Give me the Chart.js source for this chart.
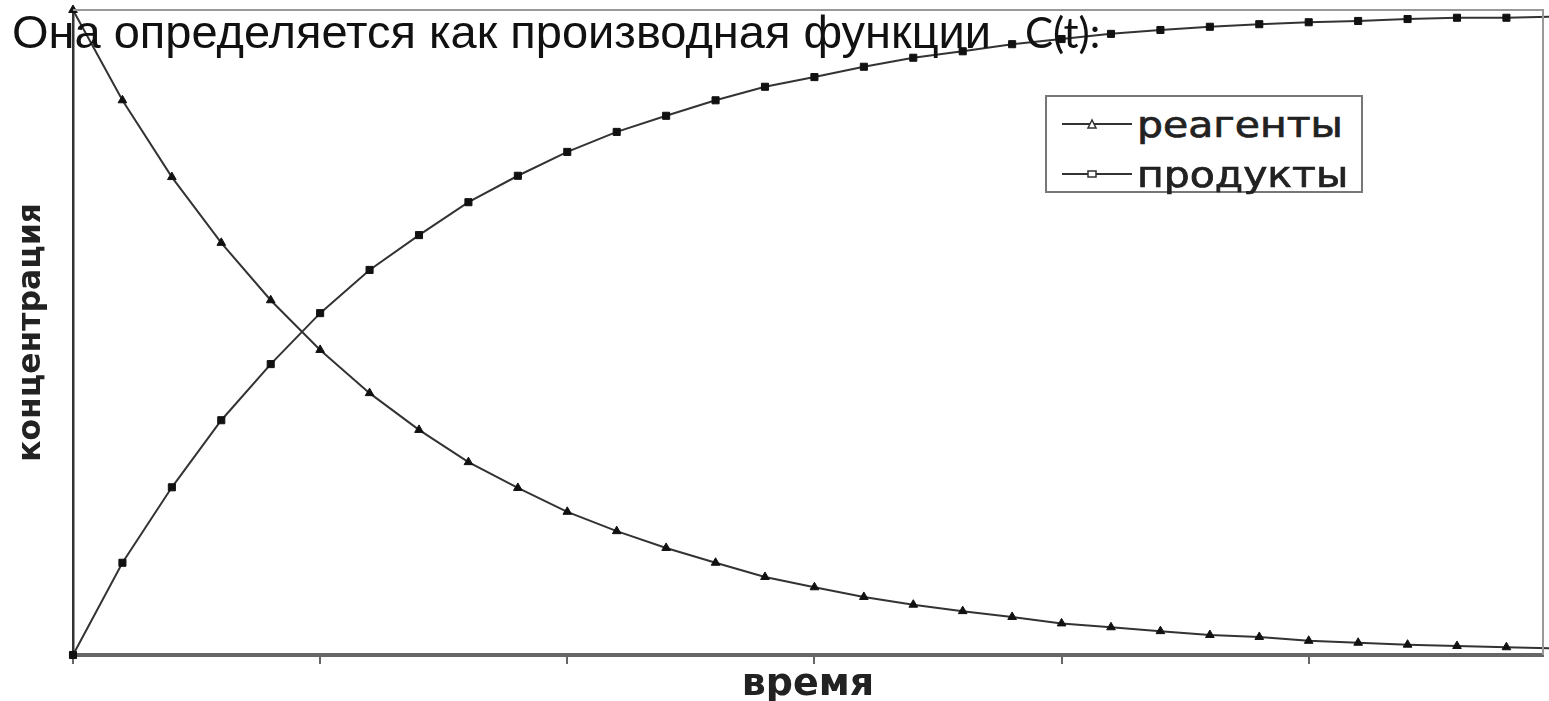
<!DOCTYPE html>
<html>
<head>
<meta charset="utf-8">
<script src="https://cdn.jsdelivr.net/npm/chart.js@4.4.1/dist/chart.umd.min.js"></script>
<style>
    body { margin: 0; background: #fff; overflow: hidden; }
    #wrap { position: relative; width: 1549px; height: 701px; }
    #heading {
        position: absolute; left: 12px; top: 7px;
        font: 47px "Liberation Sans", Arial, sans-serif; line-height: 50px;
        color: #111; white-space: nowrap;
    }
    #heading .ct { font-family: Lato, "Open Sans", sans-serif; font-size: 42px; margin-left: 34px; }
    #legend {
        position: absolute; left: 1045px; top: 95px; width: 314px; height: 94px;
        border: 2px solid #777; background: #fff;
    }
    .leg-text {
        position: absolute; left: 90px;
        font: 35px "DejaVu Sans", sans-serif; line-height: 35px; color: #222;
        -webkit-text-stroke: 0.7px #222;
        transform: scaleX(1.17); transform-origin: left center; white-space: nowrap;
    }
    .leg-mark { position: absolute; left: 15px; }
</style>
</head>
<body>
<div id="wrap">
    <canvas id="kinetics" width="1549" height="701"></canvas>
    <div id="heading">Она определяется как производная функции<span class="ct">C(t):</span></div>
    <div id="legend"></div>
</div>
<script>
const time = [0, 1, 2, 3, 4, 5, 6, 7, 8, 9, 10, 11, 12, 13, 14, 15, 16, 17, 18, 19, 20, 21, 22, 23, 24, 25, 26, 27, 28, 29, 30];
const reagents = [1.000, 0.860, 0.741, 0.639, 0.550, 0.473, 0.406, 0.349, 0.299, 0.259, 0.222, 0.192, 0.166, 0.143, 0.121, 0.105,
    0.090, 0.078, 0.068, 0.059, 0.049, 0.043, 0.037, 0.031, 0.028, 0.022, 0.019, 0.016, 0.014, 0.012, 0.010];
const products = [0.000, 0.143, 0.260, 0.364, 0.451, 0.530, 0.597, 0.651, 0.702, 0.743, 0.780, 0.811, 0.836, 0.860, 0.881, 0.896,
    0.912, 0.926, 0.936, 0.947, 0.955, 0.963, 0.969, 0.974, 0.978, 0.981, 0.983, 0.986, 0.988, 0.988, 0.990];
const seriesNames = ['реагенты', 'продукты'];
const xTitle = 'время';
const yTitle = 'концентрация';

function toPoints(values) {
    return time.map((t, i) => ({ x: t, y: values[i] }));
}

// thin grey frame on the top and right of the plot
const framePlugin = {
    id: 'frame',
    afterDraw(chart) {
        const { ctx, chartArea } = chart;
        ctx.save();
        ctx.strokeStyle = '#999';
        ctx.lineWidth = 2;
        ctx.beginPath();
        ctx.moveTo(chartArea.left, chartArea.top);
        ctx.lineTo(chartArea.right, chartArea.top);
        ctx.lineTo(chartArea.right, chartArea.bottom);
        ctx.stroke();
        ctx.restore();
    }
};

const ctx = document.getElementById('kinetics');
const kineticsChart = new Chart(ctx, {
    type: 'line',
    data: {
        datasets: [{
            label: seriesNames[0],
            data: toPoints(reagents),
            borderColor: '#333',
            borderWidth: 2,
            pointStyle: 'triangle',
            pointRadius: 5,
            pointBackgroundColor: '#111',
            pointBorderColor: '#111',
            pointBorderWidth: 1,
            tension: 0,
            clip: false
        }, {
            label: seriesNames[1],
            data: toPoints(products),
            borderColor: '#333',
            borderWidth: 2,
            pointStyle: 'rect',
            pointRadius: 5,
            pointBackgroundColor: '#111',
            pointBorderColor: '#111',
            pointBorderWidth: 1,
            tension: 0,
            clip: false
        }]
    },
    options: {
        responsive: false,
        animation: false,
        layout: { padding: { top: 10, right: 0, left: 0, bottom: 0 } },
        plugins: {
            legend: { display: false },
            tooltip: { enabled: false }
        },
        scales: {
            x: {
                type: 'linear',
                min: 0,
                max: 29.74,
                ticks: { display: false, stepSize: 5 },
                afterBuildTicks(scale) {
                    scale.ticks = scale.ticks.filter(t => t.value % 5 === 0);
                },
                grid: { drawOnChartArea: false, drawTicks: true, tickLength: 9, color: '#666', lineWidth: 2 },
                border: { color: '#666', width: 4 },
                title: {
                    display: true,
                    text: xTitle,
                    color: '#222',
                    font: { family: 'DejaVu Sans', size: 38, weight: 'bold', lineHeight: 0.84 },
                    padding: 0
                },
                afterFit(scale) {
                    scale.height = 46;
                }
            },
            y: {
                min: 0,
                max: 1,
                ticks: { display: false },
                grid: { display: false },
                border: { color: '#333', width: 2.5 },
                title: {
                    display: true,
                    text: yTitle,
                    color: '#222',
                    font: { family: 'DejaVu Sans', size: 31.5, weight: 'bold', lineHeight: 1 },
                    padding: { top: 16, bottom: 0 }
                },
                afterFit(scale) { scale.width = 73; }
            }
        }
    },
    plugins: [framePlugin]
});

// legend box in the upper right, built from the dataset labels
const legendBox = document.getElementById('legend');
const markers = [
    '<polygon points="30,6 26,14 34,14" fill="#fff" stroke="#333" stroke-width="1.5"/>',
    '<rect x="26" y="7" width="8" height="6" fill="#fff" stroke="#333" stroke-width="1.5"/>'
];
kineticsChart.data.datasets.forEach((ds, i) => {
    const rowTop = 11 + i * 50;
    legendBox.insertAdjacentHTML('beforeend',
        `<svg class="leg-mark" style="top:${rowTop + 6}px" width="70" height="20">` +
        `<line x1="0" y1="10" x2="70" y2="10" stroke="#333" stroke-width="2"/>${markers[i]}</svg>` +
        `<div class="leg-text" style="top:${rowTop}px">${ds.label}</div>`);
});
</script>
</body>
</html>
